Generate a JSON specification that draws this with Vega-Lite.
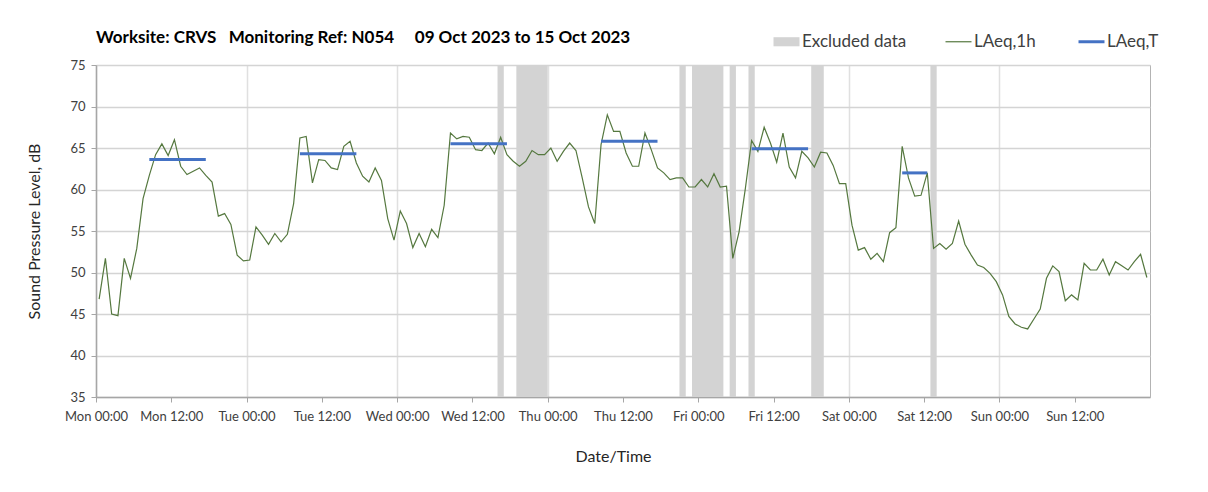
{
  "$schema": "https://vega.github.io/schema/vega-lite/v6.json",
  "width": 1054,
  "height": 332,
  "autosize": {"type": "none"},
  "padding": {"left": 96, "top": 65, "right": 58, "bottom": 95},
  "background": "white",
  "config": {"view": {"stroke": "#b3b3b3", "strokeWidth": 1}, "font": "Lato"},
  "title": {
    "text": "Worksite: CRVS\u00a0\u00a0\u00a0Monitoring Ref: N054\u00a0\u00a0\u00a0\u00a0 09 Oct 2023 to 15 Oct 2023",
    "anchor": "start",
    "frame": "group",
    "font": "Lato",
    "fontSize": 17,
    "fontWeight": "bold",
    "color": "#000000",
    "offset": 12,
    "dy": 26
  },
  "datasets": {
    "hourly": [
      {"t": "2023-10-09T00:30:00Z", "v": 46.8}, {"t": "2023-10-09T01:30:00Z", "v": 51.7}, {"t": "2023-10-09T02:30:00Z", "v": 45.0}, {"t": "2023-10-09T03:30:00Z", "v": 44.8},
      {"t": "2023-10-09T04:30:00Z", "v": 51.7}, {"t": "2023-10-09T05:30:00Z", "v": 49.3}, {"t": "2023-10-09T06:30:00Z", "v": 52.9}, {"t": "2023-10-09T07:30:00Z", "v": 58.9},
      {"t": "2023-10-09T08:30:00Z", "v": 61.7}, {"t": "2023-10-09T09:30:00Z", "v": 64.2}, {"t": "2023-10-09T10:30:00Z", "v": 65.5}, {"t": "2023-10-09T11:30:00Z", "v": 64.1},
      {"t": "2023-10-09T12:30:00Z", "v": 66.0}, {"t": "2023-10-09T13:30:00Z", "v": 62.8}, {"t": "2023-10-09T14:30:00Z", "v": 61.8}, {"t": "2023-10-09T15:30:00Z", "v": 62.2},
      {"t": "2023-10-09T16:30:00Z", "v": 62.6}, {"t": "2023-10-09T17:30:00Z", "v": 61.7}, {"t": "2023-10-09T18:30:00Z", "v": 60.9}, {"t": "2023-10-09T19:30:00Z", "v": 56.8},
      {"t": "2023-10-09T20:30:00Z", "v": 57.1}, {"t": "2023-10-09T21:30:00Z", "v": 55.8}, {"t": "2023-10-09T22:30:00Z", "v": 52.1}, {"t": "2023-10-09T23:30:00Z", "v": 51.4},
      {"t": "2023-10-10T00:30:00Z", "v": 51.5}, {"t": "2023-10-10T01:30:00Z", "v": 55.5}, {"t": "2023-10-10T02:30:00Z", "v": 54.5}, {"t": "2023-10-10T03:30:00Z", "v": 53.4},
      {"t": "2023-10-10T04:30:00Z", "v": 54.7}, {"t": "2023-10-10T05:30:00Z", "v": 53.7}, {"t": "2023-10-10T06:30:00Z", "v": 54.6}, {"t": "2023-10-10T07:30:00Z", "v": 58.3},
      {"t": "2023-10-10T08:30:00Z", "v": 66.2}, {"t": "2023-10-10T09:30:00Z", "v": 66.4}, {"t": "2023-10-10T10:30:00Z", "v": 60.8}, {"t": "2023-10-10T11:30:00Z", "v": 63.6},
      {"t": "2023-10-10T12:30:00Z", "v": 63.5}, {"t": "2023-10-10T13:30:00Z", "v": 62.6}, {"t": "2023-10-10T14:30:00Z", "v": 62.4}, {"t": "2023-10-10T15:30:00Z", "v": 65.2},
      {"t": "2023-10-10T16:30:00Z", "v": 65.8}, {"t": "2023-10-10T17:30:00Z", "v": 63.2}, {"t": "2023-10-10T18:30:00Z", "v": 61.6}, {"t": "2023-10-10T19:30:00Z", "v": 60.9},
      {"t": "2023-10-10T20:30:00Z", "v": 62.6}, {"t": "2023-10-10T21:30:00Z", "v": 61.1}, {"t": "2023-10-10T22:30:00Z", "v": 56.5}, {"t": "2023-10-10T23:30:00Z", "v": 53.9},
      {"t": "2023-10-11T00:30:00Z", "v": 57.4}, {"t": "2023-10-11T01:30:00Z", "v": 55.9}, {"t": "2023-10-11T02:30:00Z", "v": 53.0}, {"t": "2023-10-11T03:30:00Z", "v": 54.7},
      {"t": "2023-10-11T04:30:00Z", "v": 53.1}, {"t": "2023-10-11T05:30:00Z", "v": 55.2}, {"t": "2023-10-11T06:30:00Z", "v": 54.2}, {"t": "2023-10-11T07:30:00Z", "v": 58.1},
      {"t": "2023-10-11T08:30:00Z", "v": 66.8}, {"t": "2023-10-11T09:30:00Z", "v": 66.1}, {"t": "2023-10-11T10:30:00Z", "v": 66.4}, {"t": "2023-10-11T11:30:00Z", "v": 66.3},
      {"t": "2023-10-11T12:30:00Z", "v": 64.8}, {"t": "2023-10-11T13:30:00Z", "v": 64.7}, {"t": "2023-10-11T14:30:00Z", "v": 65.6}, {"t": "2023-10-11T15:30:00Z", "v": 64.3},
      {"t": "2023-10-11T16:30:00Z", "v": 66.3}, {"t": "2023-10-11T17:30:00Z", "v": 64.2}, {"t": "2023-10-11T18:30:00Z", "v": 63.4}, {"t": "2023-10-11T19:30:00Z", "v": 62.8},
      {"t": "2023-10-11T20:30:00Z", "v": 63.4}, {"t": "2023-10-11T21:30:00Z", "v": 64.7}, {"t": "2023-10-11T22:30:00Z", "v": 64.2}, {"t": "2023-10-11T23:30:00Z", "v": 64.2},
      {"t": "2023-10-12T00:30:00Z", "v": 65.0}, {"t": "2023-10-12T01:30:00Z", "v": 63.4}, {"t": "2023-10-12T02:30:00Z", "v": 64.6}, {"t": "2023-10-12T03:30:00Z", "v": 65.6},
      {"t": "2023-10-12T04:30:00Z", "v": 64.7}, {"t": "2023-10-12T05:30:00Z", "v": 61.4}, {"t": "2023-10-12T06:30:00Z", "v": 57.9}, {"t": "2023-10-12T07:30:00Z", "v": 55.9},
      {"t": "2023-10-12T08:30:00Z", "v": 65.4}, {"t": "2023-10-12T09:30:00Z", "v": 69.0}, {"t": "2023-10-12T10:30:00Z", "v": 67.0}, {"t": "2023-10-12T11:30:00Z", "v": 67.0},
      {"t": "2023-10-12T12:30:00Z", "v": 64.4}, {"t": "2023-10-12T13:30:00Z", "v": 62.8}, {"t": "2023-10-12T14:30:00Z", "v": 62.8}, {"t": "2023-10-12T15:30:00Z", "v": 66.8},
      {"t": "2023-10-12T16:30:00Z", "v": 64.8}, {"t": "2023-10-12T17:30:00Z", "v": 62.6}, {"t": "2023-10-12T18:30:00Z", "v": 62.0}, {"t": "2023-10-12T19:30:00Z", "v": 61.2},
      {"t": "2023-10-12T20:30:00Z", "v": 61.4}, {"t": "2023-10-12T21:30:00Z", "v": 61.4}, {"t": "2023-10-12T22:30:00Z", "v": 60.3}, {"t": "2023-10-12T23:30:00Z", "v": 60.3},
      {"t": "2023-10-13T00:30:00Z", "v": 61.2}, {"t": "2023-10-13T01:30:00Z", "v": 60.3}, {"t": "2023-10-13T02:30:00Z", "v": 61.9}, {"t": "2023-10-13T03:30:00Z", "v": 60.3},
      {"t": "2023-10-13T04:30:00Z", "v": 60.4}, {"t": "2023-10-13T05:30:00Z", "v": 51.7}, {"t": "2023-10-13T06:30:00Z", "v": 54.9}, {"t": "2023-10-13T07:30:00Z", "v": 60.1},
      {"t": "2023-10-13T08:30:00Z", "v": 65.9}, {"t": "2023-10-13T09:30:00Z", "v": 64.6}, {"t": "2023-10-13T10:30:00Z", "v": 67.5}, {"t": "2023-10-13T11:30:00Z", "v": 65.6},
      {"t": "2023-10-13T12:30:00Z", "v": 63.3}, {"t": "2023-10-13T13:30:00Z", "v": 66.8}, {"t": "2023-10-13T14:30:00Z", "v": 62.7}, {"t": "2023-10-13T15:30:00Z", "v": 61.4},
      {"t": "2023-10-13T16:30:00Z", "v": 64.6}, {"t": "2023-10-13T17:30:00Z", "v": 63.8}, {"t": "2023-10-13T18:30:00Z", "v": 62.7}, {"t": "2023-10-13T19:30:00Z", "v": 64.5},
      {"t": "2023-10-13T20:30:00Z", "v": 64.4}, {"t": "2023-10-13T21:30:00Z", "v": 62.9}, {"t": "2023-10-13T22:30:00Z", "v": 60.7}, {"t": "2023-10-13T23:30:00Z", "v": 60.7},
      {"t": "2023-10-14T00:30:00Z", "v": 55.7}, {"t": "2023-10-14T01:30:00Z", "v": 52.7}, {"t": "2023-10-14T02:30:00Z", "v": 53.0}, {"t": "2023-10-14T03:30:00Z", "v": 51.6},
      {"t": "2023-10-14T04:30:00Z", "v": 52.3}, {"t": "2023-10-14T05:30:00Z", "v": 51.3}, {"t": "2023-10-14T06:30:00Z", "v": 54.8}, {"t": "2023-10-14T07:30:00Z", "v": 55.4},
      {"t": "2023-10-14T08:30:00Z", "v": 65.2}, {"t": "2023-10-14T09:30:00Z", "v": 61.4}, {"t": "2023-10-14T10:30:00Z", "v": 59.2}, {"t": "2023-10-14T11:30:00Z", "v": 59.3},
      {"t": "2023-10-14T12:30:00Z", "v": 62.0}, {"t": "2023-10-14T13:30:00Z", "v": 52.9}, {"t": "2023-10-14T14:30:00Z", "v": 53.5}, {"t": "2023-10-14T15:30:00Z", "v": 52.8},
      {"t": "2023-10-14T16:30:00Z", "v": 53.5}, {"t": "2023-10-14T17:30:00Z", "v": 56.2}, {"t": "2023-10-14T18:30:00Z", "v": 53.4}, {"t": "2023-10-14T19:30:00Z", "v": 52.1},
      {"t": "2023-10-14T20:30:00Z", "v": 50.9}, {"t": "2023-10-14T21:30:00Z", "v": 50.6}, {"t": "2023-10-14T22:30:00Z", "v": 49.9}, {"t": "2023-10-14T23:30:00Z", "v": 48.9},
      {"t": "2023-10-15T00:30:00Z", "v": 47.3}, {"t": "2023-10-15T01:30:00Z", "v": 44.7}, {"t": "2023-10-15T02:30:00Z", "v": 43.8}, {"t": "2023-10-15T03:30:00Z", "v": 43.4},
      {"t": "2023-10-15T04:30:00Z", "v": 43.2}, {"t": "2023-10-15T05:30:00Z", "v": 44.4}, {"t": "2023-10-15T06:30:00Z", "v": 45.6}, {"t": "2023-10-15T07:30:00Z", "v": 49.3},
      {"t": "2023-10-15T08:30:00Z", "v": 50.8}, {"t": "2023-10-15T09:30:00Z", "v": 50.1}, {"t": "2023-10-15T10:30:00Z", "v": 46.6}, {"t": "2023-10-15T11:30:00Z", "v": 47.3},
      {"t": "2023-10-15T12:30:00Z", "v": 46.7}, {"t": "2023-10-15T13:30:00Z", "v": 51.1}, {"t": "2023-10-15T14:30:00Z", "v": 50.3}, {"t": "2023-10-15T15:30:00Z", "v": 50.3},
      {"t": "2023-10-15T16:30:00Z", "v": 51.6}, {"t": "2023-10-15T17:30:00Z", "v": 49.7}, {"t": "2023-10-15T18:30:00Z", "v": 51.3}, {"t": "2023-10-15T19:30:00Z", "v": 50.8},
      {"t": "2023-10-15T20:30:00Z", "v": 50.3}, {"t": "2023-10-15T21:30:00Z", "v": 51.3}, {"t": "2023-10-15T22:30:00Z", "v": 52.2}, {"t": "2023-10-15T23:30:00Z", "v": 49.4}
    ],
    "excluded": [
      {"t": "2023-10-11T16:00:00Z", "t2": "2023-10-11T17:00:00Z"},
      {"t": "2023-10-11T19:00:00Z", "t2": "2023-10-12T00:00:00Z"},
      {"t": "2023-10-12T21:00:00Z", "t2": "2023-10-12T22:00:00Z"},
      {"t": "2023-10-12T23:00:00Z", "t2": "2023-10-13T04:00:00Z"},
      {"t": "2023-10-13T05:00:00Z", "t2": "2023-10-13T06:00:00Z"},
      {"t": "2023-10-13T08:00:00Z", "t2": "2023-10-13T09:00:00Z"},
      {"t": "2023-10-13T18:00:00Z", "t2": "2023-10-13T20:00:00Z"},
      {"t": "2023-10-14T13:00:00Z", "t2": "2023-10-14T14:00:00Z"}
    ],
    "period": [
      {"t": "2023-10-09T08:30:00Z", "t2": "2023-10-09T17:30:00Z", "v": 63.6},
      {"t": "2023-10-10T08:30:00Z", "t2": "2023-10-10T17:30:00Z", "v": 64.3},
      {"t": "2023-10-11T08:30:00Z", "t2": "2023-10-11T17:30:00Z", "v": 65.5},
      {"t": "2023-10-12T08:30:00Z", "t2": "2023-10-12T17:30:00Z", "v": 65.8},
      {"t": "2023-10-13T08:30:00Z", "t2": "2023-10-13T17:30:00Z", "v": 64.9},
      {"t": "2023-10-14T08:30:00Z", "t2": "2023-10-14T12:30:00Z", "v": 62.0}
    ]
  },
  "layer": [
    {
      "data": {"name": "excluded"},
      "mark": {"type": "rect"},
      "encoding": {
        "x": {"field": "t", "type": "temporal", "title": "Date/Time"},
        "x2": {"field": "t2"},
        "color": {
          "datum": "Excluded data",
          "type": "nominal",
          "scale": {
            "domain": ["Excluded data", "LAeq,1h", "LAeq,T"],
            "range": ["#d3d3d3", "#55783f", "#4472c4"]
          },
          "legend": {
            "title": null,
            "orient": "none",
            "legendX": 682,
            "legendY": -32,
            "direction": "horizontal",
            "columnPadding": 36,
            "labelOffset": 7,
            "labelFont": "Lato",
            "labelFontSize": 17,
            "labelColor": "#404040",
            "symbolSize": 676,
            "encode": {
              "symbols": {
                "update": {
                  "shape": {"signal": "datum.value === 'Excluded data' ? 'M-1,-0.35H1V0.35H-1Z' : 'stroke'"},
                  "strokeWidth": {"signal": "datum.value === 'LAeq,T' ? 3 : datum.value === 'LAeq,1h' ? 1.2 : 0"},
                  "fill": {"signal": "datum.value === 'Excluded data' ? '#d3d3d3' : 'transparent'"},
                  "stroke": {"signal": "datum.value === 'LAeq,1h' ? '#55783f' : datum.value === 'LAeq,T' ? '#4472c4' : 'transparent'"}
                }
              }
            }
          }
        }
      }
    },
    {
      "data": {"name": "hourly"},
      "mark": {"type": "line", "strokeWidth": 1.2},
      "encoding": {
        "x": {
          "field": "t",
          "type": "temporal",
          "title": "Date/Time",
          "scale": {
            "domain": [
              {"year": 2023, "month": 10, "date": 9},
              {"year": 2023, "month": 10, "date": 16}
            ]
          },
          "axis": {
            "titleFont": "Lato",
            "titleFontSize": 16,
            "titleFontWeight": "normal",
            "titleColor": "#262626",
            "titlePadding": 25,
            "titleX": 517,
            "labelFont": "Lato",
            "labelFontSize": 13,
            "labelColor": "#404040",
            "labelPadding": 8,
            "labelOverlap": false,
            "labelFlush": false,
            "values": [
              {"year": 2023, "month": 10, "date": 9, "hours": 0}, {"year": 2023, "month": 10, "date": 9, "hours": 12},
              {"year": 2023, "month": 10, "date": 10, "hours": 0}, {"year": 2023, "month": 10, "date": 10, "hours": 12},
              {"year": 2023, "month": 10, "date": 11, "hours": 0}, {"year": 2023, "month": 10, "date": 11, "hours": 12},
              {"year": 2023, "month": 10, "date": 12, "hours": 0}, {"year": 2023, "month": 10, "date": 12, "hours": 12},
              {"year": 2023, "month": 10, "date": 13, "hours": 0}, {"year": 2023, "month": 10, "date": 13, "hours": 12},
              {"year": 2023, "month": 10, "date": 14, "hours": 0}, {"year": 2023, "month": 10, "date": 14, "hours": 12},
              {"year": 2023, "month": 10, "date": 15, "hours": 0}, {"year": 2023, "month": 10, "date": 15, "hours": 12}
            ],
            "format": "%a %H:%M",
            "grid": true,
            "gridColor": "#e0e0e0",
            "gridWidth": 1.5,
            "gridOpacity": {"condition": {"test": "hours(datum.value) === 0", "value": 1}, "value": 0},
            "domainColor": "#a6a6a6",
            "domainWidth": 1.5,
            "tickColor": "#a6a6a6",
            "tickSize": 5
          }
        },
        "y": {
          "field": "v",
          "type": "quantitative",
          "title": "Sound Pressure Level, dB",
          "scale": {"domain": [35, 75], "nice": false, "zero": false},
          "axis": {
            "titleFont": "Lato",
            "titleFontSize": 16,
            "titleFontWeight": "normal",
            "titleColor": "#262626",
            "titlePadding": 27,
            "labelFont": "Lato",
            "labelFontSize": 13,
            "labelColor": "#404040",
            "labelPadding": 6,
            "values": [35, 40, 45, 50, 55, 60, 65, 70, 75],
            "grid": true,
            "gridColor": "#d4d4d4",
            "gridWidth": 1.5,
            "domainColor": "#a6a6a6",
            "domainWidth": 1.5,
            "tickColor": "#a6a6a6",
            "tickSize": 5
          }
        },
        "color": {"datum": "LAeq,1h", "type": "nominal"}
      }
    },
    {
      "data": {"name": "period"},
      "mark": {"type": "rule", "strokeWidth": 3},
      "encoding": {
        "x": {"field": "t", "type": "temporal", "title": "Date/Time"},
        "x2": {"field": "t2"},
        "y": {"field": "v", "type": "quantitative", "title": "Sound Pressure Level, dB"},
        "color": {"datum": "LAeq,T", "type": "nominal"}
      }
    }
  ]
}
